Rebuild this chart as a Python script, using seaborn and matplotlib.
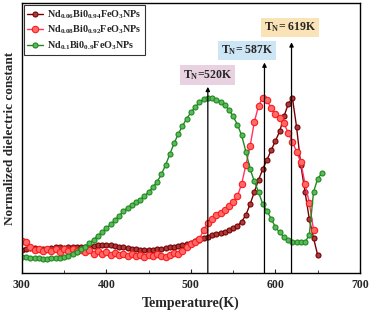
import seaborn as sns
import matplotlib.pyplot as plt

sns.set_style("ticks")
plt.rcParams['font.family'] = ['Liberation Serif', 'DejaVu Serif']
plt.rcParams['font.weight'] = 'bold'
plt.rcParams['mathtext.fontset'] = 'custom'
plt.rcParams['mathtext.rm'] = 'Liberation Serif:bold'
plt.rcParams['mathtext.it'] = 'Liberation Serif:bold'
plt.rcParams['mathtext.bf'] = 'Liberation Serif:bold'

# temperatures (K), 5 K steps
temp_a = list(range(300, 655, 5))      # Nd0.06
temp_b = list(range(300, 650, 5))      # Nd0.08
temp_c = list(range(300, 660, 5))      # Nd0.1

eps_a = [0.085, 0.090, 0.092, 0.092, 0.090, 0.088, 0.090, 0.093, 0.095, 0.095,
         0.094, 0.095, 0.097, 0.098, 0.098, 0.097, 0.098, 0.100, 0.102, 0.103,
         0.103, 0.103, 0.100, 0.097, 0.095, 0.092, 0.090, 0.088, 0.086, 0.085,
         0.085, 0.086, 0.088, 0.090, 0.093, 0.095, 0.098, 0.100, 0.103, 0.107,
         0.112, 0.118, 0.124, 0.130, 0.135, 0.140, 0.145, 0.148, 0.150, 0.158,
         0.165, 0.175, 0.190, 0.215, 0.255, 0.300, 0.345, 0.385, 0.420, 0.455,
         0.490, 0.525, 0.580, 0.625, 0.650, 0.540, 0.400, 0.300, 0.200, 0.130,
         0.065]

eps_b = [0.120, 0.115, 0.095, 0.085, 0.088, 0.080, 0.087, 0.083, 0.090, 0.078,
         0.088, 0.082, 0.090, 0.080, 0.086, 0.077, 0.085, 0.072, 0.080, 0.070,
         0.078, 0.068, 0.075, 0.066, 0.072, 0.064, 0.070, 0.062, 0.068, 0.060,
         0.068, 0.063, 0.070, 0.062, 0.058, 0.068, 0.075, 0.072, 0.080, 0.095,
         0.108, 0.115, 0.125, 0.160, 0.185, 0.200, 0.215, 0.222, 0.235, 0.250,
         0.262, 0.285, 0.330, 0.400, 0.470, 0.560, 0.620, 0.650, 0.640, 0.610,
         0.590, 0.575, 0.555, 0.520, 0.485, 0.450, 0.410, 0.330, 0.260, 0.160]

eps_c = [0.060, 0.058, 0.056, 0.055, 0.054, 0.053, 0.053, 0.054, 0.055, 0.057,
         0.060, 0.064, 0.070, 0.078, 0.088, 0.098, 0.110, 0.124, 0.138, 0.152,
         0.165, 0.180, 0.195, 0.212, 0.228, 0.242, 0.252, 0.262, 0.272, 0.285,
         0.300, 0.318, 0.338, 0.365, 0.400, 0.440, 0.480, 0.515, 0.545, 0.572,
         0.595, 0.615, 0.632, 0.645, 0.650, 0.648, 0.643, 0.635, 0.623, 0.605,
         0.580, 0.550, 0.510, 0.450, 0.385, 0.340, 0.300, 0.255, 0.230, 0.200,
         0.170, 0.150, 0.133, 0.122, 0.116, 0.115, 0.114, 0.115, 0.140, 0.300,
         0.350, 0.370]

labels = [r'Nd$_{0.06}$Bi0$_{0.94}$FeO$_3$NPs',
          r'Nd$_{0.08}$Bi0$_{0.92}$FeO$_3$NPs',
          r'Nd$_{0.1}$Bi0$_{0.9}$FeO$_3$NPs']

tn_temps = [520, 587, 619]
tn_tips = [0.69, 0.78, 0.855]
tn_text = [r'T$_N$=520K', r'T$_N$= 587K', r'T$_N$= 619K']
tn_text_pos = [(520, 0.735), (566, 0.825), (617, 0.91)]
tn_box = ['#e8d2e2', '#cce6f6', '#fbe3b8']

fig = plt.figure(figsize=(3.7, 3.2), dpi=100)
ax = fig.add_axes([0.059, 0.147, 0.914, 0.843])

# (temps, values, edge colour, face colour, line colour, marker size)
series = [(temp_a, eps_a, '#7a0000', '#a83c3c', '#7a0000', 3.6),
          (temp_b, eps_b, '#ff1a1a', '#ff6a6a', '#ff3366', 4.6),
          (temp_c, eps_c, '#1e8a1e', '#5cb85c', '#1e8a1e', 3.6)]
for (t, e, ec, fc, lc, ms), lab in zip(series, labels):
    sns.lineplot(x=t, y=e, ax=ax, color=lc, lw=1, marker='o', markersize=ms,
                 markeredgecolor=ec, markerfacecolor=fc, markeredgewidth=0.8,
                 label=lab)

for t, tip in zip(tn_temps, tn_tips):
    ax.annotate('', xy=(t, tip), xytext=(t, 0),
                arrowprops=dict(arrowstyle='-|>', color='black', lw=0.9,
                                mutation_scale=6, shrinkA=0, shrinkB=0))
for txt, (x, y), c in zip(tn_text, tn_text_pos, tn_box):
    ax.text(x, y, txt, ha='center', va='center', fontsize=8.5, fontweight='bold',
            bbox=dict(boxstyle='square,pad=0.25', fc=c, ec='none'))

ax.set_xlim(300, 700)
ax.set_ylim(0, 1)
ax.set_xticks([300, 400, 500, 600, 700])
ax.set_xticks([350, 450, 550, 650], minor=True)
ax.set_yticks([])
ax.tick_params(axis='x', direction='in', length=3, labelsize=8.5, pad=4)
ax.tick_params(axis='x', which='minor', direction='in', length=2)
for s in ax.spines.values():
    s.set_linewidth(1.0)
    s.set_color('black')
ax.set_xlabel('Temperature(K)', fontsize=10, fontweight='bold')
ax.set_ylabel('Normalized dielectric constant', fontsize=9.5, fontweight='bold', labelpad=4)

leg = ax.legend(loc='upper left', fontsize=7.3, frameon=True, fancybox=False,
                edgecolor='black', handlelength=1.6, borderpad=0.3,
                labelspacing=0.3, handletextpad=0.4, borderaxespad=0.2)
leg.get_frame().set_linewidth(0.8)

fig.savefig('out.png', dpi=100)
